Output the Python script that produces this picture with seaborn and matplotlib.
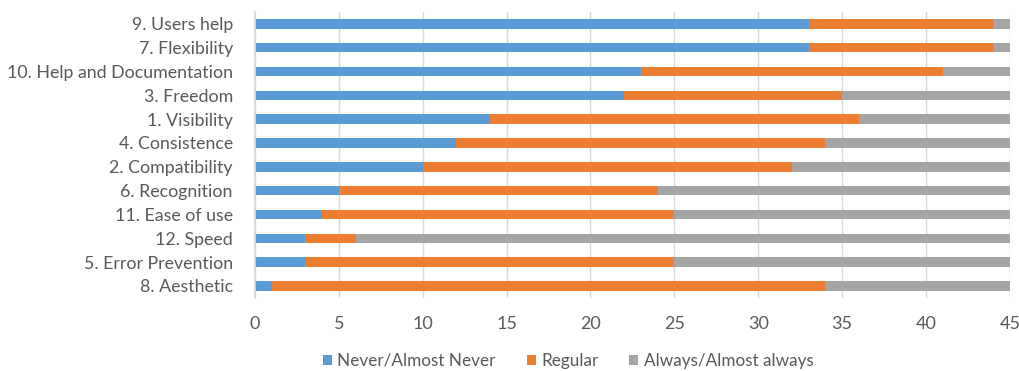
import numpy as np
import pandas as pd
import matplotlib
matplotlib.use("Agg")
import matplotlib.pyplot as plt
import seaborn as sns
from matplotlib.patches import Patch

categories = ["9. Users help", "7. Flexibility", "10. Help and Documentation", "3. Freedom",
              "1. Visibility", "4. Consistence", "2. Compatibility", "6. Recognition",
              "11. Ease of use", "12. Speed", "5. Error Prevention", "8. Aesthetic"]
never = [33, 33, 23, 22, 14, 12, 10, 5, 4, 3, 3, 1]
regular = [11, 11, 18, 13, 22, 22, 22, 19, 21, 3, 22, 33]
always = [1, 1, 4, 10, 9, 11, 13, 21, 20, 39, 20, 11]
series_names = ["Never/Almost Never", "Regular", "Always/Almost always"]
colors = ["#5B9BD5", "#ED7D31", "#A5A5A5"]
xticks = [0, 5, 10, 15, 20, 25, 30, 35, 40, 45]

sns.set_theme(style="white")
plt.rcParams['font.family'] = ['Lato', 'DejaVu Sans']
text_color = "#595959"

df = pd.DataFrame({"cat": categories, "never": never, "regular": regular, "always": always})
df["c1"] = df["never"]
df["c2"] = df["never"] + df["regular"]
df["c3"] = df["c2"] + df["always"]

fig = plt.figure(figsize=(10.2, 3.71), dpi=100)
ax = fig.add_axes([0.25, 0.197, 0.74, 0.771])

for col, color in zip(["c3", "c2", "c1"], colors[::-1]):
    sns.barplot(data=df, x=col, y="cat", order=categories, color=color, width=0.4,
                saturation=1, ax=ax, orient="h", linewidth=0)

ax.set_xlim(0, 45)
ax.set_ylim(len(categories) - 0.5, -0.5)
ax.set_xticks(xticks)
ax.set_xticklabels([str(t) for t in xticks])
ax.xaxis.grid(True, color="#D9D9D9", linewidth=1)
ax.set_axisbelow(True)
ax.set_xlabel("")
ax.set_ylabel("")
for s in ["top", "right", "bottom"]:
    ax.spines[s].set_visible(False)
ax.spines["left"].set_color("#D9D9D9")
ax.tick_params(axis="both", colors=text_color, length=0)
ax.tick_params(axis="y", labelsize=12.8, pad=16)
ax.tick_params(axis="x", labelsize=13, pad=13)

handles = [Patch(facecolor=c, edgecolor="none") for c in colors]
fig.legend(handles, series_names, loc="center", bbox_to_anchor=(0.557, 0.027), ncol=3,
           frameon=False, fontsize=12.3, handlelength=0.55, handleheight=0.55,
           columnspacing=1.8, handletextpad=0.3, labelcolor=text_color)

fig.savefig("out.png", dpi=100)
